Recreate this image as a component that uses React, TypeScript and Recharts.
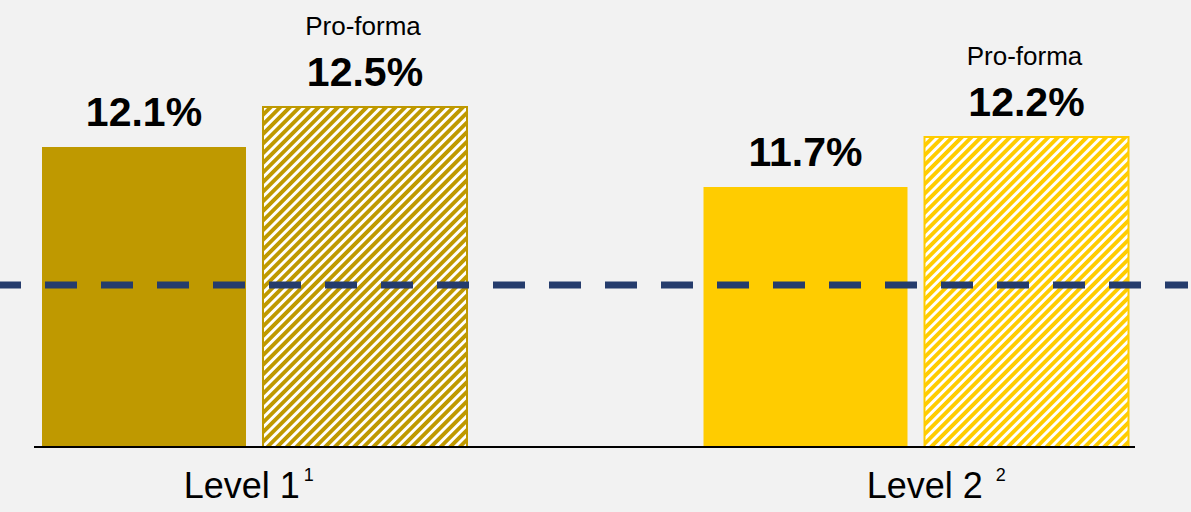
import React from 'react';
import { BarChart, Bar, XAxis, YAxis, Cell, LabelList, ReferenceLine } from 'recharts';

// ---- data ----
const categories = ['Level 1', 'Level 2'];
const categorySups = ['1', '2'];
const actualValues = [12.1, 11.7];
const proformaValues = [12.5, 12.2];
const proformaTag = 'Pro-forma';
const referenceValue = 10.72;
const yDomain: [number, number] = [9.1, 13.5];

const colors = ['#BF9900', '#FFCC00'];
const navy = '#253C6C';
const FONT = '"Liberation Sans", Arial, sans-serif';

const data = categories.map((name, i) => ({
  name,
  sup: categorySups[i],
  actual: actualValues[i],
  proforma: proformaValues[i],
}));

const fmt = (v: number) => `${v.toFixed(1)}%`;

const tickStartOffset = [-71, -49.5];
const supDx = [4, 13];

const CategoryTick = (props: any) => {
  const { x, y, payload, index } = props;
  const i = index ?? categories.indexOf(payload.value);
  return (
    <text
      x={x + tickStartOffset[i]}
      y={y + 51}
      textAnchor="start"
      fontFamily={FONT}
      fontSize={36}
      fill="#000"
    >
      <tspan>{payload.value}</tspan>
      <tspan dx={supDx[i]} dy={-17} fontSize={18}>
        {categorySups[i]}
      </tspan>
    </text>
  );
};

const ValueLabel = (props: any) => {
  const { x, y, width, value } = props;
  return (
    <text
      x={x + width / 2}
      y={y - 21}
      textAnchor="middle"
      fontFamily={FONT}
      fontWeight="bold"
      fontSize={41}
      fill="#000"
    >
      {fmt(value)}
    </text>
  );
};

const ProformaLabel = (props: any) => {
  const { x, y, width, value } = props;
  return (
    <g>
      <text
        x={x + width / 2}
        y={y - 21}
        textAnchor="middle"
        fontFamily={FONT}
        fontWeight="bold"
        fontSize={41}
        fill="#000"
      >
        {fmt(value)}
      </text>
      <text
        x={x + width / 2 - 2}
        y={y - 72}
        textAnchor="middle"
        fontFamily={FONT}
        fontSize={26}
        fill="#000"
      >
        {proformaTag}
      </text>
    </g>
  );
};

const DashedShape = (props: any) => {
  const { y1 } = props;
  return (
    <line
      x1={0}
      x2={1188}
      y1={y1}
      y2={y1}
      stroke={navy}
      strokeWidth={7}
      strokeDasharray="32 24"
      strokeDashoffset={11}
    />
  );
};

export default function App() {
  return (
    <div
      style={{
        position: 'absolute',
        left: 0,
        top: 0,
        width: 1191,
        height: 512,
        background: '#F2F2F2',
        overflow: 'hidden',
      }}
    >
      <BarChart
        width={1191}
        height={512}
        data={data}
        margin={{ top: 7, right: 56, bottom: 0, left: 34 }}
        barSize={204}
        barGap={17}
      >
        <defs>
          {colors.map((c, i) => (
            <pattern
              key={i}
              id={`hatch-${i}`}
              patternUnits="userSpaceOnUse"
              width={6.8}
              height={6.8}
              patternTransform="rotate(45)"
            >
              <rect x={0} y={0} width={6.8} height={6.8} fill="#FFFFFF" />
              <rect x={0} y={0} width={3.5} height={6.8} fill={c} shapeRendering="crispEdges" />
            </pattern>
          ))}
        </defs>
        <XAxis
          dataKey="name"
          height={65}
          axisLine={{ stroke: '#000', strokeWidth: 2 }}
          tickLine={false}
          tickSize={0}
          tickMargin={0}
          padding={{ left: -110, right: -112 }}
          tick={<CategoryTick />}
          interval={0}
        />
        <YAxis hide type="number" domain={yDomain} allowDataOverflow />
        <Bar dataKey="actual" isAnimationActive={false}>
          {data.map((_, i) => (
            <Cell key={i} fill={colors[i]} />
          ))}
          <LabelList dataKey="actual" content={<ValueLabel />} />
        </Bar>
        <Bar dataKey="proforma" isAnimationActive={false}>
          {data.map((_, i) => (
            <Cell key={i} fill={`url(#hatch-${i})`} stroke={colors[i]} strokeWidth={2} />
          ))}
          <LabelList dataKey="proforma" content={<ProformaLabel />} />
        </Bar>
        <ReferenceLine y={referenceValue} shape={<DashedShape />} />
      </BarChart>
    </div>
  );
}
